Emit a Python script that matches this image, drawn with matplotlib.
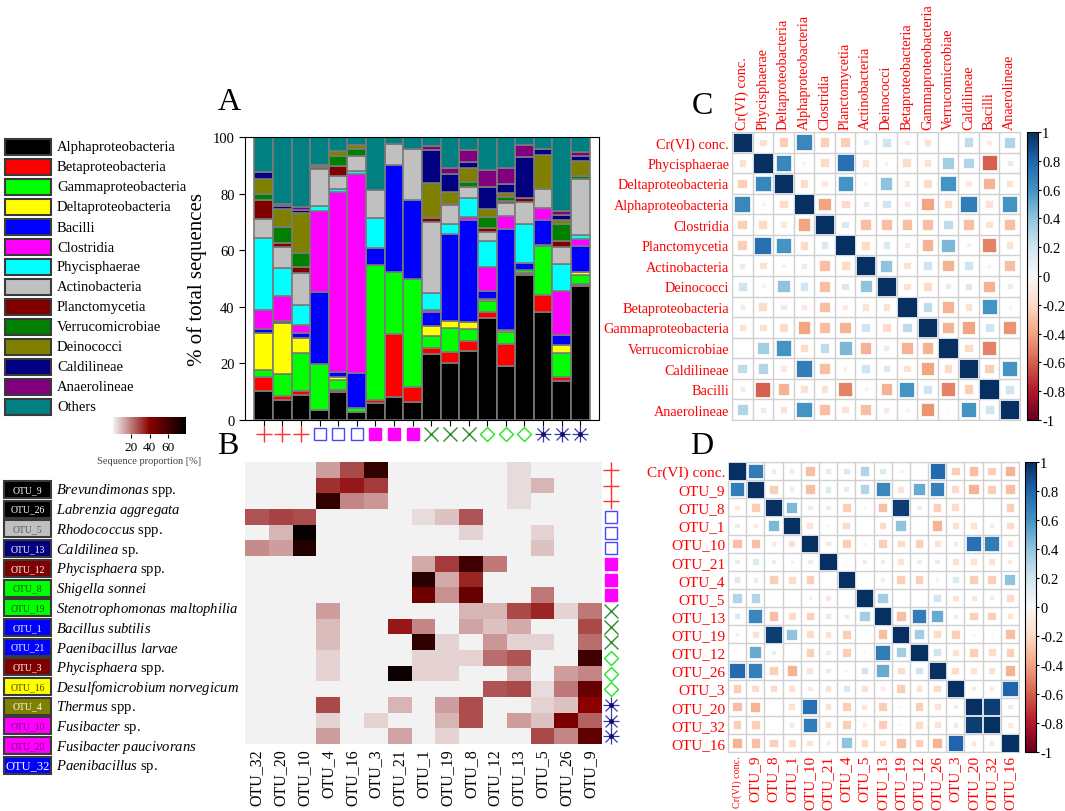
import numpy as np
import matplotlib
matplotlib.use('Agg')
import matplotlib.pyplot as plt
import matplotlib.cm as cm
from matplotlib.colors import LinearSegmentedColormap, Normalize
from matplotlib.patches import Rectangle
from matplotlib.transforms import blended_transform_factory

plt.rcParams['font.family'] = ['Liberation Serif', 'DejaVu Serif']
plt.rcParams['mathtext.fontset'] = 'custom'
plt.rcParams['mathtext.rm'] = 'Liberation Serif'
plt.rcParams['mathtext.it'] = 'Liberation Serif:italic'

W, H = 1065, 812

# ---------------- panel A data (% of total sequences, 18 samples) ----------------
classes = ['Alphaproteobacteria', 'Betaproteobacteria', 'Gammaproteobacteria',
           'Deltaproteobacteria', 'Bacilli', 'Clostridia', 'Phycisphaerae',
           'Actinobacteria', 'Planctomycetia', 'Verrucomicrobiae', 'Deinococci',
           'Caldilineae', 'Anaerolineae', 'Others']
class_colors = ['#000000', '#ff0000', '#00ff00', '#ffff00', '#0000ff', '#ff00ff',
                '#00ffff', '#c0c0c0', '#800000', '#008000', '#808000', '#000080',
                '#800080', '#008080']

alpha_p = [10.1, 7.2, 9.0, 3.5, 9.8, 2.7, 6.0, 8.1, 6.5, 23.3, 20.2, 24.3, 36.2, 19.2, 51.1, 38.3, 13.9, 47.2]
beta_p = [5.0, 1.4, 1.4, 0, 0.7, 0, 1.0, 22.3, 5.1, 2.1, 4.0, 3.5, 1.9, 7.7, 0.9, 5.9, 1.4, 0.9]
gamma_p = [2.6, 7.6, 13.3, 16.4, 3.8, 1.4, 47.8, 21.8, 38.3, 4.2, 8.2, 4.3, 4.0, 4.1, 0.9, 17.2, 8.3, 3.2]
delta_p = [13.1, 17.9, 5.4, 0, 0.8, 0, 0, 0, 0, 3.5, 2.7, 2.5, 0.7, 0.9, 0, 0.6, 2.9, 0.9]
bacilli = [1.3, 0.8, 1.7, 25.3, 2.0, 12.4, 5.9, 38.0, 28.0, 5.0, 30.6, 36.2, 2.7, 35.6, 2.5, 8.5, 3.6, 9.2]
clostridia = [6.8, 8.9, 2.8, 28.7, 63.4, 70.5, 0, 0, 0, 0.6, 0, 0.9, 8.6, 4.5, 0, 4.4, 15.4, 2.4]
phycisphaerae = [25.4, 9.9, 7.0, 1.7, 1.2, 0.9, 10.8, 0, 0, 6.1, 3.6, 6.8, 9.1, 0, 13.9, 0, 9.7, 1.6]
actinobacteria = [6.6, 7.4, 11.4, 13.1, 4.4, 5.3, 9.6, 7.3, 17.7, 25.1, 6.8, 4.0, 3.4, 4.7, 7.9, 6.8, 5.9, 19.6]
planctomycetia = [6.8, 1.3, 2.1, 0.6, 3.6, 0, 0, 0, 0, 1.4, 0.3, 0, 1.2, 0.8, 1.2, 0, 2.0, 0]
verrucomicrobiae = [2.3, 5.8, 4.9, 0, 3.6, 2.4, 0, 0, 0, 0, 0, 1.6, 4.1, 1.2, 0, 0, 6.2, 1.1]
deinococci = [5.0, 6.4, 14.2, 0.9, 1.7, 1.5, 0, 0, 0, 12.4, 4.2, 4.9, 2.7, 1.4, 0, 11.8, 1.2, 5.3]
caldilineae = [2.6, 0.9, 1.1, 0, 0, 0, 0, 0, 0, 11.6, 6.4, 2.2, 7.9, 3.3, 14.5, 2.4, 2.1, 1.9]
anaerolineae = [0, 0.7, 0.8, 0, 0, 0, 0, 0, 0, 1.5, 1.9, 4.3, 5.8, 5.7, 4.4, 0, 1.1, 1.4]
others = [12.4, 23.8, 24.9, 9.8, 5.0, 2.9, 18.9, 2.5, 4.4, 3.2, 11.4, 4.5, 11.7, 10.8, 2.7, 4.1, 26.3, 5.3]

series = [alpha_p, beta_p, gamma_p, delta_p, bacilli, clostridia, phycisphaerae,
          actinobacteria, planctomycetia, verrucomicrobiae, deinococci,
          caldilineae, anaerolineae, others]

sample_groups = ['plus'] * 3 + ['open_sq'] * 3 + ['filled_sq'] * 3 + \
                ['cross'] * 3 + ['diamond'] * 3 + ['star'] * 3

# ---------------- panel B data (sequence proportion %) ----------------
otu_cols = ['OTU_32', 'OTU_20', 'OTU_10', 'OTU_4', 'OTU_16', 'OTU_3', 'OTU_21', 'OTU_1',
            'OTU_19', 'OTU_8', 'OTU_12', 'OTU_13', 'OTU_5', 'OTU_26', 'OTU_9']
heat = [
    [0, 0, 0, 14, 28, 65, 0, 0, 0, 0, 0, 4, 0, 0, 0],
    [0, 0, 0, 32, 36, 30, 0, 0, 0, 0, 0, 4, 10, 0, 0],
    [0, 0, 0, 65, 18, 15, 0, 0, 0, 0, 0, 4, 0, 0, 0],
    [26, 29, 27, 0, 0, 0, 0, 4, 8, 26, 0, 0, 0, 0, 0],
    [0, 10, 78, 0, 0, 0, 0, 0, 0, 5, 0, 0, 5, 0, 0],
    [17, 14, 70, 0, 0, 0, 0, 0, 0, 0, 0, 0, 8, 0, 0],
    [0, 0, 0, 0, 0, 0, 0, 12, 30, 62, 20, 0, 0, 0, 0],
    [0, 0, 0, 0, 0, 0, 0, 68, 12, 34, 0, 0, 0, 0, 0],
    [0, 0, 0, 0, 0, 0, 0, 48, 16, 50, 0, 0, 20, 0, 0],
    [0, 0, 0, 14, 0, 0, 0, 0, 0, 10, 10, 28, 34, 5, 20],
    [0, 0, 0, 9, 0, 0, 36, 18, 0, 13, 8, 12, 0, 0, 28],
    [0, 0, 0, 9, 0, 0, 0, 66, 5, 0, 15, 5, 5, 0, 22],
    [0, 0, 0, 5, 0, 0, 0, 5, 5, 5, 22, 26, 0, 0, 62],
    [0, 0, 0, 5, 0, 0, 76, 5, 5, 0, 0, 10, 0, 14, 18],
    [0, 0, 0, 0, 0, 0, 0, 0, 0, 0, 26, 28, 4, 20, 50],
    [0, 0, 0, 28, 0, 0, 10, 0, 14, 27, 0, 0, 5, 8, 40],
    [0, 0, 0, 5, 0, 5, 0, 0, 10, 27, 0, 14, 8, 44, 24],
    [0, 0, 0, 14, 0, 0, 13, 0, 5, 0, 0, 0, 28, 18, 52],
]

otu_legend = ['OTU_9', 'OTU_26', 'OTU_5', 'OTU_13', 'OTU_12', 'OTU_8', 'OTU_19', 'OTU_1',
              'OTU_21', 'OTU_3', 'OTU_16', 'OTU_4', 'OTU_10', 'OTU_20', 'OTU_32']
otu_box_colors = ['#000000', '#000000', '#c0c0c0', '#000080', '#800000', '#00ff00', '#00ff00',
                  '#0000ff', '#0000ff', '#800000', '#ffff00', '#808000', '#ff00ff', '#ff00ff',
                  '#0000ff']
otu_text_colors = ['white', 'white', '#555555', 'white', 'white', '#005500', '#005500',
                   'white', 'white', 'white', '#444400', 'white', '#800080', '#800080',
                   'white']
otu_names = [r'$\it{Brevundimonas}$ spp.', r'$\it{Labrenzia\ aggregata}$',
             r'$\it{Rhodococcus}$ spp.', r'$\it{Caldilinea}$ sp.',
             r'$\it{Phycisphaera}$ spp.', r'$\it{Shigella\ sonnei}$',
             r'$\it{Stenotrophomonas\ maltophilia}$', r'$\it{Bacillus\ subtilis}$',
             r'$\it{Paenibacillus\ larvae}$', r'$\it{Phycisphaera}$ spp.',
             r'$\it{Desulfomicrobium\ norvegicum}$', r'$\it{Thermus}$ spp.',
             r'$\it{Fusibacter}$ sp.', r'$\it{Fusibacter\ paucivorans}$',
             r'$\it{Paenibacillus}$ sp.']

# ---------------- panel C data (correlations, upper triangle by row) ----------------
c_labels = ['Cr(VI) conc.', 'Phycisphaerae', 'Deltaproteobacteria', 'Alphaproteobacteria',
            'Clostridia', 'Planctomycetia', 'Actinobacteria', 'Deinococci',
            'Betaproteobacteria', 'Gammaproteobacteria', 'Verrucomicrobiae',
            'Caldilineae', 'Bacilli', 'Anaerolineae']
c_upper = [
    [-0.15, -0.25, 0.65, -0.25, -0.25, 0.1, 0.2, -0.08, -0.15, 0.0, 0.25, -0.08, 0.3],
    [0.65, 0.05, -0.2, 0.75, -0.15, 0.05, -0.2, -0.15, 0.35, 0.3, -0.6, 0.1],
    [-0.2, -0.1, 0.6, -0.05, 0.4, -0.1, -0.2, 0.6, -0.1, -0.35, -0.15],
    [-0.4, -0.2, 0.1, 0.2, -0.1, -0.4, -0.2, 0.7, -0.15, 0.6],
    [0.15, -0.3, -0.3, -0.3, -0.3, 0.25, -0.3, -0.15, -0.3],
    [-0.2, 0.15, -0.1, -0.35, 0.45, -0.05, -0.5, -0.15],
    [0.4, -0.15, 0.2, -0.35, 0.2, -0.05, -0.3],
    [-0.15, -0.2, 0.1, 0.15, -0.35, -0.1],
    [0.25, -0.35, -0.15, 0.6, -0.05],
    [-0.35, -0.4, 0.2, -0.45],
    [-0.2, -0.5, -0.02],
    [-0.25, 0.6],
    [0.2],
]

# ---------------- panel D data (correlations, upper triangle by row) ----------------
d_labels = ['Cr(VI) conc.', 'OTU_9', 'OTU_8', 'OTU_1', 'OTU_10', 'OTU_21', 'OTU_4', 'OTU_5',
            'OTU_13', 'OTU_19', 'OTU_12', 'OTU_26', 'OTU_3', 'OTU_20', 'OTU_32', 'OTU_16']
d_upper = [
    [0.7, -0.1, -0.1, -0.3, 0.1, 0.15, 0.3, 0.15, -0.05, 0.0, 0.78, -0.25, -0.3, -0.25, -0.35],
    [-0.25, -0.1, -0.3, 0.15, 0.1, 0.3, 0.65, -0.15, 0.5, 0.68, -0.2, -0.35, -0.25, -0.3],
    [0.45, -0.1, -0.1, -0.25, 0.02, -0.3, 0.95, 0.1, -0.25, -0.2, 0.0, 0.0, -0.25],
    [-0.15, -0.05, -0.2, 0.0, -0.2, 0.4, 0.02, -0.35, -0.15, -0.15, -0.1, -0.2],
    [-0.1, -0.25, -0.05, -0.25, -0.2, -0.25, -0.15, -0.1, 0.75, 0.7, -0.15],
    [-0.02, -0.1, 0.1, -0.15, -0.1, 0.1, -0.15, -0.15, -0.15, -0.08],
    [0.0, -0.08, -0.25, -0.25, -0.05, 0.15, -0.25, -0.25, 0.4],
    [0.35, -0.02, -0.02, 0.2, -0.15, -0.12, -0.08, -0.2],
    [-0.3, 0.7, 0.5, -0.08, -0.25, -0.25, -0.15],
    [0.35, -0.2, -0.25, -0.03, -0.03, -0.3],
    [0.2, -0.15, -0.25, -0.2, -0.25],
    [-0.2, -0.15, -0.15, -0.35],
    [-0.1, -0.1, 0.8],
    [0.95, -0.1],
    [-0.1],
]


def full_matrix(upper):
    n = len(upper) + 1
    m = np.eye(n)
    for i, row in enumerate(upper):
        m[i, i + 1:] = row
    return m + np.triu(m, 1).T


def px(x0, y0, x1, y1):
    return [x0 / W, 1 - y1 / H, (x1 - x0) / W, (y1 - y0) / H]


def draw_marker(ax, x, y, kind, tr):
    kw = dict(transform=tr, clip_on=False, linestyle='none')
    if kind == 'plus':
        ax.plot(x, y, marker='+', ms=11, mew=1.0, color='#ff3030', **kw)
    elif kind == 'open_sq':
        ax.plot(x, y, marker='s', ms=9, mew=1.0, mfc='none', mec='#4848ff', **kw)
    elif kind == 'filled_sq':
        ax.plot(x, y, marker='s', ms=9, color='#ff00ff', **kw)
    elif kind == 'cross':
        ax.plot(x, y, marker='x', ms=10, mew=1.0, color='#2e8b2e', **kw)
    elif kind == 'diamond':
        ax.plot(x, y, marker='D', ms=7.5, mew=1.0, mfc='none', mec='#22e622', **kw)
    else:
        ax.plot(x, y, marker='+', ms=11, mew=0.9, color='#3838a8', **kw)
        ax.plot(x, y, marker='x', ms=8, mew=0.9, color='#3838a8', **kw)
        ax.plot(x, y, marker='o', ms=2.5, color='#10106a', **kw)


fig = plt.figure(figsize=(W / 100, H / 100), dpi=100)

# ---------------- left legends ----------------
axL = fig.add_axes([0, 0, 1, 1])
axL.set_xlim(0, W)
axL.set_ylim(H, 0)
axL.axis('off')
for i, (name, col) in enumerate(zip(classes, class_colors)):
    top = 140 + 20 * i
    axL.add_patch(Rectangle((5, top), 46, 16, facecolor=col, edgecolor='#3a3a3a', lw=1.5))
    axL.text(57, top + 8, name, fontsize=10.5, va='center', ha='left')

for i, (otu, bc, tc, nm) in enumerate(zip(otu_legend, otu_box_colors, otu_text_colors, otu_names)):
    top = 482 + 19.7 * i
    axL.add_patch(Rectangle((4, top), 47, 17, facecolor=bc, edgecolor='#3a3a3a', lw=1.5))
    axL.text(27.5, top + 8.5, otu, fontsize=9 if otu == 'OTU_32' else 7, color=tc,
             ha='center', va='center')
    axL.text(56, top + 9, nm, fontsize=10.5, va='center', ha='left')

# heatmap colour scale
heat_cmap = LinearSegmentedColormap.from_list('seq', [(0, '#f2f2f2'), (0.5, '#8b0000'), (1, '#000000')])
axCb = fig.add_axes(px(113, 418, 186, 435))
cbh = fig.colorbar(cm.ScalarMappable(norm=Normalize(0, 80), cmap=heat_cmap), cax=axCb,
                   orientation='horizontal', ticks=[20, 40, 60])
cbh.outline.set_visible(False)
cbh.ax.tick_params(labelsize=9.5, length=3, width=0.8, pad=2)
cbh.set_label('Sequence proportion [%]', fontsize=7.5, color='#444444', labelpad=2)

# ---------------- panel A ----------------
axA = fig.add_axes(px(245, 138, 599, 421))
xs = np.arange(len(alpha_p))
bottom = np.zeros(len(xs))
for name, col, vals in zip(classes, class_colors, series):
    axA.bar(xs, vals, bottom=bottom, width=1.0, color=col, edgecolor='#7a7a7a', linewidth=1.2)
    bottom += np.array(vals)
axA.set_xlim(-1.0, 18.0)
axA.set_ylim(0, 100)
axA.set_yticks(range(0, 101, 20))
axA.set_xticks(xs)
axA.set_xticklabels([])
axA.tick_params(axis='both', direction='out', labelsize=10.5, length=4)
axA.set_ylabel('% of total sequences', fontsize=15, labelpad=4)
trA = blended_transform_factory(axA.transData, axA.transAxes)
for i, g in enumerate(sample_groups):
    draw_marker(axA, i, -0.048, g, trA)

# ---------------- panel B ----------------
axB = fig.add_axes(px(245, 463, 602, 745))
axB.imshow(np.array(heat), cmap=heat_cmap, vmin=0, vmax=80, aspect='auto', interpolation='nearest')
axB.set_xticks(range(len(otu_cols)))
axB.set_xticklabels(otu_cols, rotation=90, fontsize=11.5)
axB.set_yticks([])
axB.tick_params(length=0, pad=3)
for s in axB.spines.values():
    s.set_visible(False)
trB = blended_transform_factory(axB.transAxes, axB.transData)
for i, g in enumerate(sample_groups):
    draw_marker(axB, 1.026, i, g, trB)


# ---------------- correlation panels ----------------
def corrplot(ax, cax, labels, mat, top, fs_row, fs_col, fs_first=None):
    n = len(labels)
    cell_pt = ax.get_position().width * W / n * 0.72
    gx, gy = np.meshgrid(np.arange(n), np.arange(n))
    v = mat.ravel()
    ax.scatter(gx.ravel(), gy.ravel(), s=(0.95 * cell_pt) ** 2 * np.abs(v), c=v,
               cmap='RdBu', vmin=-1, vmax=1, marker='s', edgecolors='white',
               linewidths=0.5, zorder=3)
    ax.set_xlim(-0.5, n - 0.5)
    ax.set_ylim(n - 0.5, -0.5)
    ax.set_xticks(np.arange(n))
    ax.set_yticks(np.arange(n))
    ax.set_xticks(np.arange(-0.5, n), minor=True)
    ax.set_yticks(np.arange(-0.5, n), minor=True)
    ax.grid(which='minor', color='#d0d0d0', lw=1.0)
    ax.grid(which='major', visible=False)
    ax.set_axisbelow(True)
    ax.tick_params(which='both', length=0)
    for s in ax.spines.values():
        s.set_color('#d0d0d0')
    ax.set_yticklabels(labels, fontsize=fs_row, color='#ff0000')
    if top:
        ax.xaxis.tick_top()
    ax.set_xticklabels(labels, rotation=90, fontsize=fs_col, color='#ff0000')
    if fs_first:
        ax.get_xticklabels()[0].set_fontsize(fs_first)
    ax.tick_params(axis='both', pad=2)
    cb = fig.colorbar(cm.ScalarMappable(norm=Normalize(-1, 1), cmap='RdBu'), cax=cax,
                      ticks=np.linspace(-1, 1, 11))
    cb.ax.set_yticklabels(['-1', '-0.8', '-0.6', '-0.4', '-0.2', '0', '0.2', '0.4',
                           '0.6', '0.8', '1'])
    cb.ax.tick_params(labelsize=10.5, length=2, width=0.8, pad=1)
    cb.outline.set_linewidth(0.8)


axC = fig.add_axes(px(732, 133, 1020, 421))
caxC = fig.add_axes(px(1027, 133, 1038, 421))
corrplot(axC, caxC, c_labels, full_matrix(c_upper), True, 10.3, 10.3)

axD = fig.add_axes(px(728, 463, 1019, 753))
caxD = fig.add_axes(px(1025, 463, 1036, 753))
corrplot(axD, caxD, d_labels, full_matrix(d_upper), False, 11, 11, fs_first=7.3)

# panel letters
for letter, x, y in [('A', 229, 102), ('B', 228, 446), ('C', 702, 107), ('D', 702, 447)]:
    fig.text(x / W, 1 - y / H, letter, fontsize=23, ha='center', va='center')

fig.savefig('out.png', dpi=100)
